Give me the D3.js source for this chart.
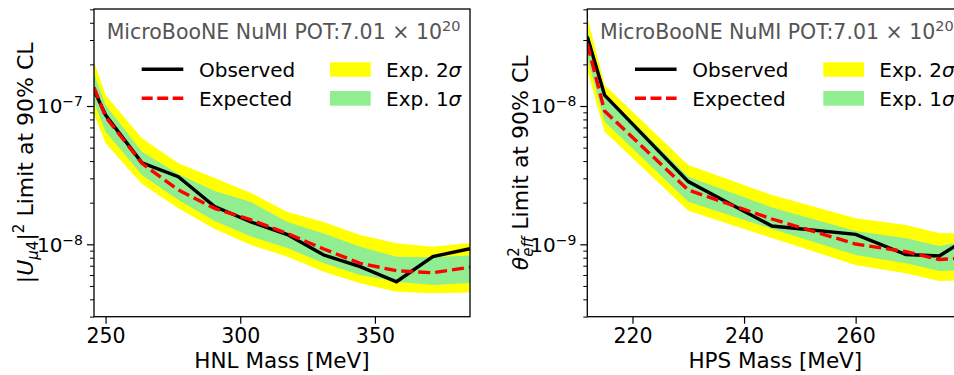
<!DOCTYPE html>
<html><head><meta charset="utf-8">
<script src="https://cdn.jsdelivr.net/npm/d3@7"></script>
<style>
body{margin:0;background:#fff}
svg{display:block}
text{font-family:"DejaVu Sans",sans-serif}
</style>
</head><body>
<svg id="c" width="954" height="375"></svg>
<script>
// ---------- HNL panel data ----------
const hnlMass     = [245.7, 250, 263.5, 277, 290.5, 304, 317.5, 331, 344.5, 358, 371.5, 385.3];
const hnlObserved = [1.305e-7, 8.61e-8, 3.89e-8, 3.08e-8, 1.877e-8, 1.45e-8, 1.177e-8, 8.37e-9, 6.89e-9, 5.36e-9, 8.16e-9, 9.29e-9];
const hnlExpected = [1.365e-7, 8.37e-8, 3.85e-8, 2.47e-8, 1.82e-8, 1.50e-8, 1.197e-8, 9.25e-9, 7.29e-9, 6.44e-9, 6.23e-9, 6.82e-9];
const hnl2SigHi   = [2.09e-7, 1.20e-7, 5.84e-8, 3.85e-8, 3.02e-8, 2.35e-8, 1.712e-8, 1.45e-8, 1.167e-8, 1.017e-8, 9.61e-9, 1.022e-8];
const hnl1SigHi   = [1.72e-7, 1.017e-7, 4.67e-8, 3.22e-8, 2.43e-8, 2.02e-8, 1.45e-8, 1.197e-8, 9.61e-9, 8.13e-9, 8.05e-9, 8.30e-9];
const hnl1SigLo   = [1.07e-7, 6.52e-8, 3.17e-8, 2.09e-8, 1.474e-8, 1.138e-8, 9.40e-9, 7.29e-9, 6.00e-9, 5.36e-9, 5.08e-9, 5.25e-9];
const hnl2SigLo   = [8.75e-8, 5.37e-8, 2.73e-8, 1.82e-8, 1.29e-8, 9.88e-9, 8.13e-9, 6.34e-9, 5.22e-9, 4.54e-9, 4.42e-9, 4.48e-9];
const hnlXTicks   = [250, 300, 350];
const hnlYTicks   = [1e-8, 1e-7];
const hnlYDomain  = [2.996e-9, 5.03e-7];

// ---------- HPS panel data ----------
const hpsMass     = [211.9, 215, 230, 245, 260, 269, 275, 279.3];
const hpsObserved = [3.17e-8, 1.20e-8, 2.84e-9, 1.356e-9, 1.181e-9, 8.44e-10, 8.23e-10, 1.056e-9];
const hpsExpected = [2.81e-8, 9.20e-9, 2.47e-9, 1.524e-9, 1.005e-9, 8.84e-10, 7.76e-10, 7.96e-10];
const hps2SigHi   = [4.40e-8, 1.418e-8, 3.74e-9, 2.27e-9, 1.542e-9, 1.379e-9, 1.201e-9, 1.207e-9];
const hps1SigHi   = [3.54e-8, 1.235e-8, 3.08e-9, 1.845e-9, 1.248e-9, 1.105e-9, 9.72e-10, 1.039e-9];
const hps1SigLo   = [2.22e-8, 7.70e-9, 2.03e-9, 1.29e-9, 8.37e-10, 7.29e-10, 6.41e-10, 6.52e-10];
const hps2SigLo   = [1.82e-8, 6.52e-9, 1.75e-9, 1.11e-9, 7.09e-10, 6.17e-10, 5.43e-10, 5.52e-10];
const hpsXTicks   = [220, 240, 260];
const hpsYTicks   = [1e-9, 1e-8];
const hpsYDomain  = [2.996e-10, 5.03e-8];

const titleMain = "MicroBooNE NuMI POT:7.01 × 10";
const titleSup  = "20";
const legendLabels = ["Observed", "Expected", "Exp. 2", "Exp. 1"];

const svg = d3.select("#c");
const TOP = 9, W = 376, H = 307.7;
const YELLOW = "#ffff00", GREEN = "#90ee90";

function panel(o) {
  const g = svg.append("g").attr("transform", `translate(${o.left},${TOP})`);
  const x = d3.scaleLinear().domain(d3.extent(o.mass)).range([0, W]);
  const y = d3.scaleLog().domain(o.yDomain).range([H, 0]);
  const cid = "clip" + o.id;
  g.append("clipPath").attr("id", cid).append("rect").attr("width", W).attr("height", H);
  const plot = g.append("g").attr("clip-path", `url(#${cid})`);
  const idx = d3.range(o.mass.length);
  const band = (lo, hi) => d3.area().x(i => x(o.mass[i])).y0(i => y(lo[i])).y1(i => y(hi[i]));
  plot.append("path").attr("d", band(o.lo2, o.hi2)(idx)).attr("fill", YELLOW);
  plot.append("path").attr("d", band(o.lo1, o.hi1)(idx)).attr("fill", GREEN);
  const line = arr => d3.line().x(i => x(o.mass[i])).y(i => y(arr[i]));
  plot.append("path").attr("d", line(o.obs)(idx)).attr("fill", "none")
    .attr("stroke", "#000").attr("stroke-width", 3.4).attr("stroke-linejoin", "miter");
  plot.append("path").attr("d", line(o.exp)(idx)).attr("fill", "none")
    .attr("stroke", "#ff0000").attr("stroke-width", 3.4).attr("stroke-dasharray", "12,5");

  // x axis
  const xa = g.append("g").attr("transform", `translate(0,${H})`)
    .call(d3.axisBottom(x).tickValues(o.xTicks).tickSize(7).tickPadding(5).tickSizeOuter(0));
  xa.select(".domain").remove();
  xa.selectAll("line").attr("stroke", "#000").attr("stroke-width", 1.2);
  xa.selectAll("text").attr("font-size", 20.5).attr("fill", "#000").attr("font-family", "DejaVu Sans");

  // y axis majors
  const ya = g.append("g").call(d3.axisLeft(y).tickValues(o.yTicks).tickSize(7).tickFormat("").tickSizeOuter(0));
  ya.select(".domain").remove();
  ya.selectAll("line").attr("stroke", "#000").attr("stroke-width", 1.2);
  // minor
  const [d0, d1] = o.yDomain;
  const minors = [];
  for (let e = Math.floor(Math.log10(d0)); e <= Math.ceil(Math.log10(d1)); e++)
    for (let k = 2; k <= 9; k++) { const v = k * Math.pow(10, e); if (v >= d0 && v <= d1) minors.push(v); }
  const ym = g.append("g").call(d3.axisLeft(y).tickValues(minors).tickSize(4).tickFormat("").tickSizeOuter(0));
  ym.select(".domain").remove();
  ym.selectAll("line").attr("stroke", "#000").attr("stroke-width", 1);
  // y labels
  o.yTicks.forEach(v => {
    const e = Math.round(Math.log10(v));
    const t = g.append("text").attr("x", -11).attr("y", y(v) + 7.3)
      .attr("text-anchor", "end").attr("font-size", 20).attr("fill", "#000");
    t.append("tspan").text("10");
    t.append("tspan").attr("font-size", 14).attr("dy", -7).text("\u2212" + Math.abs(e));
  });

  // frame
  g.append("rect").attr("width", W).attr("height", H).attr("fill", "none")
    .attr("stroke", "#000").attr("stroke-width", 1.3);

  // x label
  g.append("text").attr("x", W / 2).attr("y", H + 51.3).attr("text-anchor", "middle")
    .attr("font-size", 21.5).attr("fill", "#000").text(o.xLabel);

  // y label
  const yl = g.append("text").attr("transform", `translate(${o.yLabelX},${H / 2}) rotate(-90)`)
    .attr("text-anchor", "middle").attr("font-size", 22).attr("fill", "#000");
  o.yLabelBuild(yl);

  // title
  const tt = g.append("text").attr("x", 12.7).attr("y", 30.3).attr("font-size", 20.5).attr("fill", "#555");
  tt.append("tspan").text(titleMain);
  tt.append("tspan").attr("font-size", 14.5).attr("dy", -8).text(titleSup);

  // legend
  const lg = g.append("g");
  lg.append("line").attr("x1", 47.7).attr("x2", 89.3).attr("y1", 60.3).attr("y2", 60.3)
    .attr("stroke", "#000").attr("stroke-width", 3.4);
  lg.append("line").attr("x1", 47.7).attr("x2", 89.3).attr("y1", 89.3).attr("y2", 89.3)
    .attr("stroke", "#ff0000").attr("stroke-width", 3.4).attr("stroke-dasharray", "11,4.5");
  lg.append("text").attr("x", 105).attr("y", 68.3).attr("font-size", 20).text(legendLabels[0]);
  lg.append("text").attr("x", 105).attr("y", 97).attr("font-size", 20).text(legendLabels[1]);
  lg.append("rect").attr("x", 236).attr("y", 53.3).attr("width", 40.7).attr("height", 14.4).attr("fill", YELLOW);
  lg.append("rect").attr("x", 236).attr("y", 82).attr("width", 40.7).attr("height", 14.7).attr("fill", GREEN);
  [[legendLabels[2], 68.3], [legendLabels[3], 97]].forEach(([s, yy]) => {
    const t = lg.append("text").attr("x", 292).attr("y", yy).attr("font-size", 20);
    t.append("tspan").text(s);
    t.append("tspan").attr("font-style", "italic").text("\u03c3");
  });
}

panel({
  id: "a", left: 94, mass: hnlMass, obs: hnlObserved, exp: hnlExpected,
  hi2: hnl2SigHi, hi1: hnl1SigHi, lo1: hnl1SigLo, lo2: hnl2SigLo,
  xTicks: hnlXTicks, yTicks: hnlYTicks, yDomain: hnlYDomain,
  xLabel: "HNL Mass [MeV]", yLabelX: -61.5,
  yLabelBuild: t => {
    t.append("tspan").text("|");
    t.append("tspan").attr("font-style", "italic").text("U");
    t.append("tspan").attr("font-size", 15).attr("dy", 5).attr("font-style", "italic").text("\u03bc");
    t.append("tspan").attr("font-size", 15).text("4");
    t.append("tspan").attr("dy", -5).text("|");
    t.append("tspan").attr("font-size", 15).attr("dy", -9).text("2");
    t.append("tspan").attr("dy", 9).text(" Limit at 90% CL");
  }
});

panel({
  id: "b", left: 587.3, mass: hpsMass, obs: hpsObserved, exp: hpsExpected,
  hi2: hps2SigHi, hi1: hps1SigHi, lo1: hps1SigLo, lo2: hps2SigLo,
  xTicks: hpsXTicks, yTicks: hpsYTicks, yDomain: hpsYDomain,
  xLabel: "HPS Mass [MeV]", yLabelX: -59,
  yLabelBuild: t => {
    t.append("tspan").attr("font-style", "italic").text("\u03b8");
    t.append("tspan").attr("font-size", 15).attr("dy", -9).text("2");
    t.append("tspan").attr("font-size", 15).attr("dy", 14).attr("dx", -9.5).attr("font-style", "italic").text("eff");
    t.append("tspan").attr("dy", -5).text(" Limit at 90% CL");
  }
});
</script>
</body></html>
